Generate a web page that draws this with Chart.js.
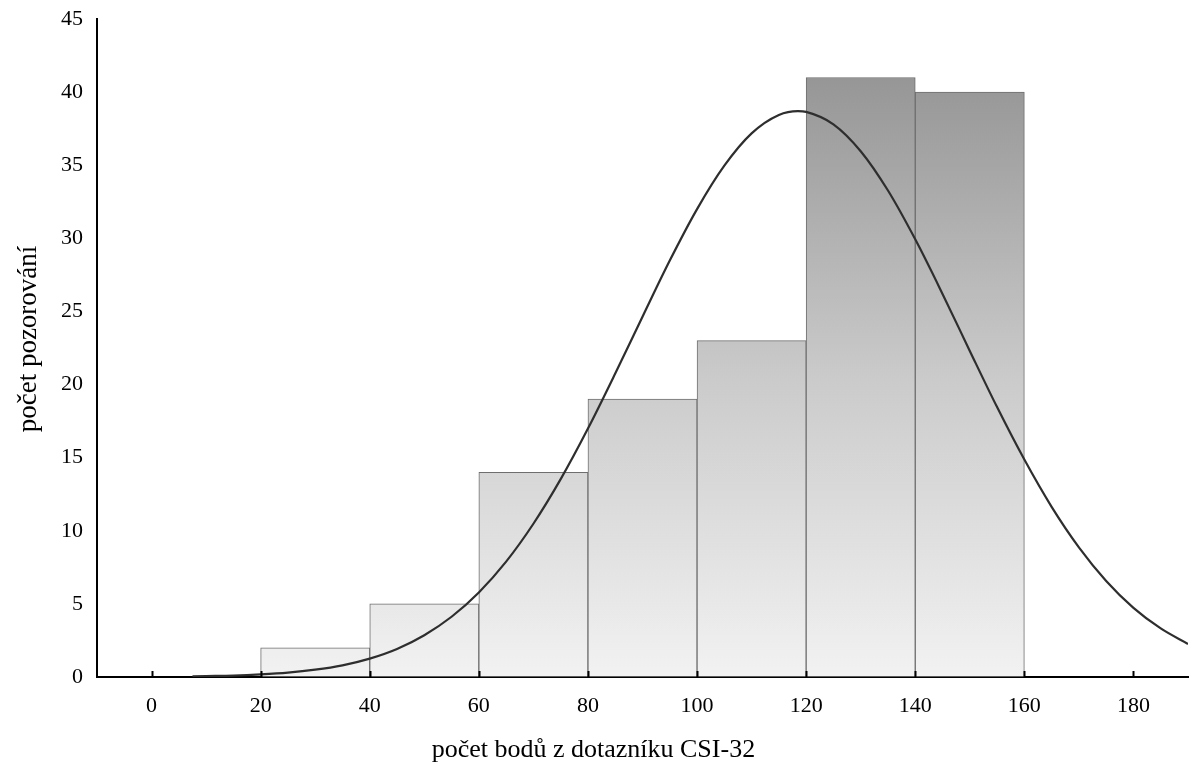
<!DOCTYPE html>
<html>
<head>
<meta charset="utf-8">
<script src="https://cdn.jsdelivr.net/npm/chart.js@4.4.1/dist/chart.umd.min.js"></script>
<style>
  html, body { margin: 0; padding: 0; background: #fff; }
  #wrap { width: 1194px; height: 771px; position: relative; }
</style>
</head>
<body>
<div id="wrap"><canvas id="c" width="1194" height="771"></canvas></div>
<script>
// ---- data ----
const binCenters = [30, 50, 70, 90, 110, 130, 150];
const binCounts  = [2, 5, 14, 19, 23, 41, 40];
const curveX = [7.5, 10, 15, 20, 25, 30, 35, 40, 45, 50, 55, 60, 65, 70, 75, 80, 85, 90, 95, 100, 105, 110, 115, 118.5, 120, 125, 130, 135, 140, 145, 150, 155, 160, 165, 170, 175, 180, 185, 190];
const curveY = [0.04, 0.06, 0.1, 0.18, 0.3, 0.5, 0.8, 1.26, 1.92, 2.86, 4.12, 5.78, 7.89, 10.48, 13.53, 16.99, 20.75, 24.64, 28.48, 32.0, 34.97, 37.18, 38.44, 38.7, 38.65, 37.8, 35.96, 33.27, 29.93, 26.2, 22.3, 18.46, 14.87, 11.64, 8.87, 6.57, 4.73, 3.32, 2.26];
const xTicks = [0, 20, 40, 60, 80, 100, 120, 140, 160, 180];
const xTitle = 'počet bodů z dotazníku CSI-32';
const yTitle = 'počet pozorování';

const FONT = "'Liberation Serif', 'Times New Roman', serif";

function barGradient(ctx) {
  const chart = ctx.chart;
  if (!chart.chartArea) return '#cccccc';
  const y = chart.scales.y;
  const g = chart.ctx.createLinearGradient(0, y.getPixelForValue(0), 0, y.getPixelForValue(45));
  g.addColorStop(0, '#f2f2f2');
  g.addColorStop(0.45, '#cbcbcb');
  g.addColorStop(1, '#8c8c8c');
  return g;
}

const decorations = {
  id: 'decorations',
  afterDraw(chart) {
    const ctx = chart.ctx;
    const xs = chart.scales.x;
    const area = chart.chartArea;
    ctx.save();
    // inward tick marks on the x axis
    ctx.strokeStyle = '#000';
    ctx.lineWidth = 2;
    xs.ticks.forEach(t => {
      const px = Math.round(xs.getPixelForValue(t.value)) + 0.5;
      ctx.beginPath();
      ctx.moveTo(px, area.bottom);
      ctx.lineTo(px, area.bottom - 6);
      ctx.stroke();
    });
    // axis titles
    ctx.fillStyle = '#000';
    ctx.font = "26px " + FONT;
    ctx.textAlign = 'center';
    ctx.textBaseline = 'middle';
    ctx.fillText(xTitle, area.left + (area.right - area.left) * 0.455, area.bottom + 73);
    ctx.translate(29, (area.top + area.bottom) / 2 - 9);
    ctx.rotate(-Math.PI / 2);
    ctx.font = "27px " + FONT;
    ctx.fillText(yTitle, 0, 0);
    ctx.restore();
  }
};

new Chart(document.getElementById('c'), {
  type: 'bar',
  data: {
    datasets: [
      {
        type: 'line',
        data: curveX.map((x, i) => ({ x: x, y: curveY[i] })),
        borderColor: '#2e2e2e',
        borderWidth: 2.2,
        pointRadius: 0,
        cubicInterpolationMode: 'monotone',
        fill: false,
        order: 0
      },
      {
        type: 'bar',
        data: binCenters.map((x, i) => ({ x: x, y: binCounts[i] })),
        backgroundColor: barGradient,
        borderColor: '#6e6e6e',
        borderWidth: 1,
        barPercentage: 1,
        categoryPercentage: 1,
        order: 1
      }
    ]
  },
  options: {
    responsive: false,
    animation: false,
    layout: { padding: { left: 0, right: 6, top: 19, bottom: 0 } },
    plugins: { legend: { display: false }, tooltip: { enabled: false } },
    scales: {
      x: {
        type: 'linear',
        min: -10,
        max: 190,
        offset: false,
        afterBuildTicks: s => { s.ticks = xTicks.map(v => ({ value: v })); },
        afterFit: s => { s.height = 94; s.paddingLeft = 0; s.paddingRight = 0; },
        grid: { display: true, drawOnChartArea: false, drawTicks: false },
        border: { display: true, color: '#000', width: 2 },
        ticks: { color: '#000', font: { family: FONT, size: 22 }, padding: 16, maxRotation: 0 }
      },
      y: {
        min: 0,
        max: 45,
        afterFit: s => { s.width = 97; s.paddingTop = 0; s.paddingBottom = 0; },
        grid: { display: true, drawOnChartArea: false, drawTicks: false },
        border: { display: true, color: '#000', width: 2 },
        ticks: { stepSize: 5, color: '#000', font: { family: FONT, size: 22 }, padding: 14 }
      }
    }
  },
  plugins: [decorations]
});
</script>
</body>
</html>
